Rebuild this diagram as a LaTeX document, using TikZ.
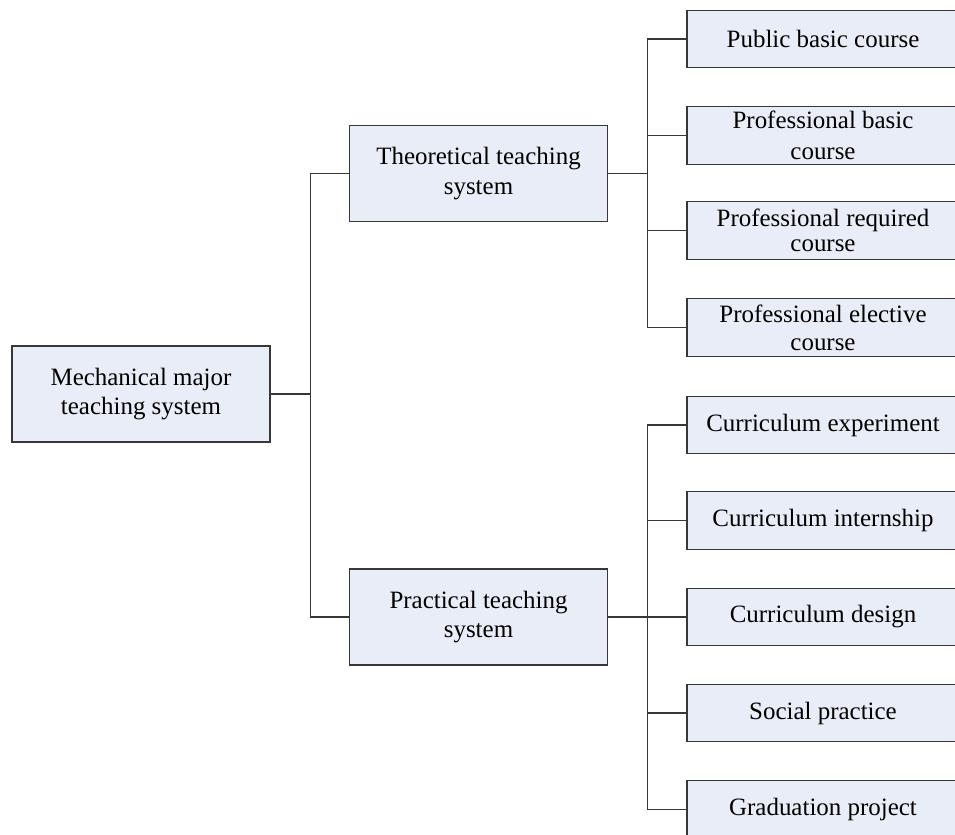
\documentclass[tikz,border=0pt]{standalone}
\usepackage{fontspec}
\setmainfont{Liberation Serif}
\usetikzlibrary{calc}

\definecolor{boxfill}{RGB}{232,237,247}
\definecolor{boxline}{RGB}{55,55,55}

\begin{document}
\begin{tikzpicture}[x=0.02cm, y=-0.02cm,
    sys/.style={rectangle, draw=boxline, fill=boxfill, line width=0.7pt,
      minimum width=5.16cm, minimum height=1.92cm, inner sep=0pt, align=center,
      font=\fontsize{14.2}{17}\selectfont},
    course/.style={sys, minimum width=5.44cm, minimum height=1.15cm},
    link/.style={draw=boxline, line width=0.6pt}]
  \useasboundingbox (0,0) rectangle (955,834);
  \clip (0,0) rectangle (955,834);
  \node[sys] (root) at (141,394) {Mechanical major\\teaching system};
  \node[sys] (theo) at (478.5,173.5) {Theoretical teaching\\system};
  \node[sys] (prac) at (478.5,617) {Practical teaching\\system};
  % theoretical courses
  \node[course] (pub) at (823,39) {Public basic course};
  \node[course] (pbas) at (823,135.5) {Professional basic\\[1pt]course};
  \node[course] (preq) at (823,230.5) {Professional required\\[-2.5pt]course};
  \node[course] (pele) at (823,327.5) {Professional elective\\[-1pt]course};
  % practical courses
  \node[course] (exp) at (823,425) {Curriculum experiment};
  \node[course] (intern) at (823,520.5) {Curriculum internship};
  \node[course] (design) at (823,617) {Curriculum design};
  \node[course] (social) at (823,713) {Social practice};
  \node[course] (grad) at (823,809.5) {Graduation project};
  % connectors
  \draw[link] (root.east) -- ++(40,0) |- (theo.west);
  \draw[link] (root.east) -- ++(40,0) |- (prac.west);
  \foreach \c in {pub,pbas,preq,pele}
    \draw[link] (theo.east) -- ++(39,0) |- (\c.west);
  \foreach \c in {exp,intern,design,social,grad}
    \draw[link] (prac.east) -- ++(39,0) |- (\c.west);
\end{tikzpicture}
\end{document}
